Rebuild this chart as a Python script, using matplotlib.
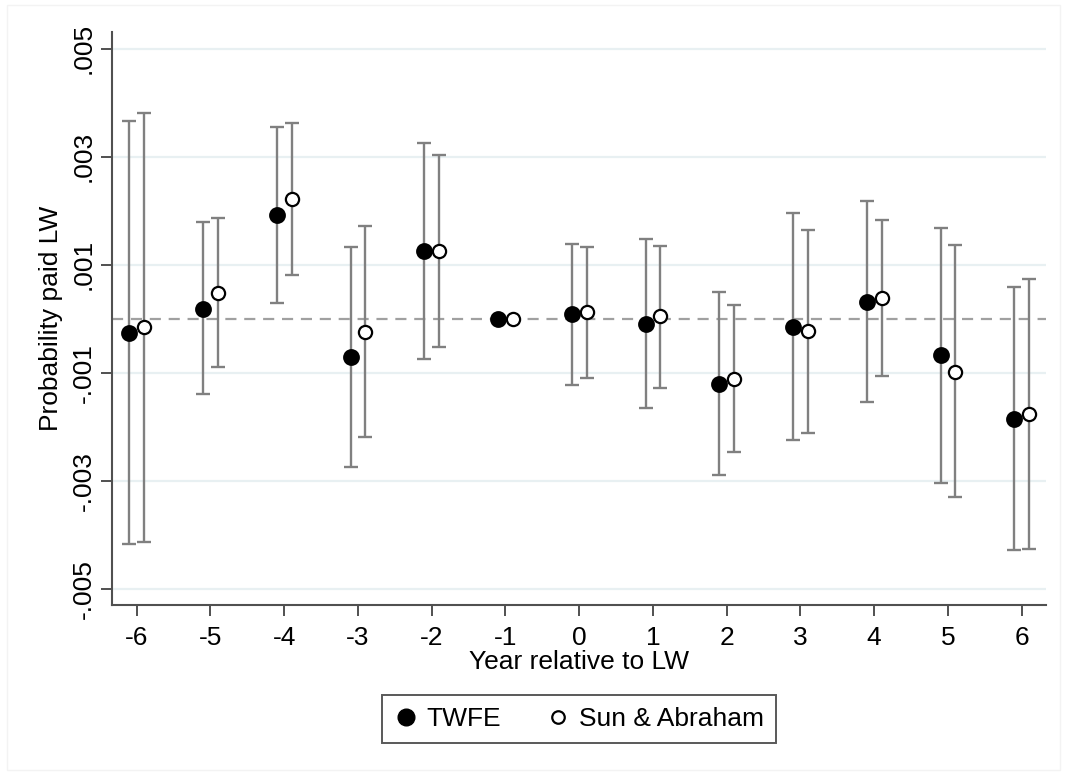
import matplotlib

matplotlib.use("Agg")
import matplotlib.pyplot as plt
from matplotlib.lines import Line2D
from matplotlib.patches import Rectangle

plt.rcParams["font.family"] = ["Liberation Sans", "DejaVu Sans"]

# event time relative to LW
periods = [-6, -5, -4, -3, -2, -1, 0, 1, 2, 3, 4, 5, 6]

twfe_coef = [-0.00026, 0.00018, 0.00192, -0.00071, 0.00126, 0.0, 0.00008,
             -0.00010, -0.00121, -0.00015, 0.00031, -0.00068, -0.00186]
twfe_lo = [-0.00418, -0.00140, 0.00029, -0.00275, -0.00074, 0.0, -0.00123,
           -0.00165, -0.00289, -0.00224, -0.00154, -0.00304, -0.00429]
twfe_hi = [0.00366, 0.00178, 0.00355, 0.00133, 0.00326, 0.0, 0.00139,
           0.00147, 0.00050, 0.00195, 0.00217, 0.00168, 0.00058]

sa_coef = [-0.00016, 0.00048, 0.00221, -0.00024, 0.00126, 0.0, 0.00012,
           0.00004, -0.00111, -0.00023, 0.00039, -0.00098, -0.00177]
sa_lo = [-0.00414, -0.00089, 0.00080, -0.00219, -0.00052, 0.0, -0.00109,
         -0.00129, -0.00246, -0.00211, -0.00106, -0.00331, -0.00427]
sa_hi = [0.00381, 0.00187, 0.00363, 0.00172, 0.00303, 0.0, 0.00133,
         0.00135, 0.00026, 0.00165, 0.00183, 0.00136, 0.00074]

yticks = [-0.005, -0.003, -0.001, 0.001, 0.003, 0.005]
ytick_labels = ["-.005", "-.003", "-.001", ".001", ".003", ".005"]

bar_color = "#808080"
axis_color = "#505050"
grid_color = "#e8f0f2"
shift = 0.1
fs = 19

fig = plt.figure(figsize=(10.67, 7.75), dpi=100, facecolor="white")
ax = fig.add_axes([0.1053, 0.2194, 0.8750, 0.7389])

for y in yticks:
    ax.axhline(y, color=grid_color, lw=1.6, zorder=0)
ax.axhline(0, color="#a0a0a0", lw=1.6, ls=(0, (5, 3.5)), zorder=1)


def draw_series(offset, coef, lo, hi, face):
    xs = [p + offset for p in periods]
    err = [[c - l for c, l in zip(coef, lo)], [h - c for c, h in zip(coef, hi)]]
    ax.errorbar(xs, coef, yerr=err, fmt="none", ecolor=bar_color,
                elinewidth=1.7, capsize=4.8, capthick=1.7, zorder=2)
    ax.plot(xs, coef, ls="none", marker="o", ms=10.5 if face == "black" else 9.5,
            mfc=face, mec="black", mew=1.6, zorder=3)


draw_series(-shift, twfe_coef, twfe_lo, twfe_hi, "black")
draw_series(shift, sa_coef, sa_lo, sa_hi, "white")

ax.set_xlim(-6.33, 6.33)
ax.set_ylim(-0.0053, 0.0053)
ax.set_xticks(periods)
ax.set_xticklabels([str(p) for p in periods])
ax.set_yticks(yticks)
ax.set_yticklabels(ytick_labels, rotation=90, va="center")

for side in ["top", "right"]:
    ax.spines[side].set_visible(False)
for side in ["left", "bottom"]:
    ax.spines[side].set_color(axis_color)
    ax.spines[side].set_linewidth(1.5)

ax.tick_params(axis="both", direction="out", length=8, width=1.4,
               color=axis_color, labelsize=fs, labelcolor="black")
ax.tick_params(axis="x", pad=7)
ax.tick_params(axis="y", pad=4)

ax.set_xlabel("Year relative to LW", fontsize=fs)
ax.xaxis.set_label_coords(0.5, -0.078)
ax.set_ylabel("Probability paid LW", fontsize=fs)
ax.yaxis.set_label_coords(-0.053, 0.5)

handles = [
    Line2D([], [], ls="none", marker="o", ms=12, mfc="black", mec="black"),
    Line2D([], [], ls="none", marker="o", ms=9, mfc="white", mec="black", mew=1.6),
]
leg = fig.legend(handles, ["TWFE", "Sun & Abraham"], loc="center",
                 bbox_to_anchor=(0.5426, 0.0725), ncol=2, fontsize=fs,
                 frameon=True, fancybox=False, handlelength=0.9,
                 handletextpad=0.35, columnspacing=1.7, borderpad=0.45,
                 borderaxespad=0)
leg.get_frame().set_edgecolor("#303030")
leg.get_frame().set_linewidth(1.4)

fig.patches.append(Rectangle((0.0066, 0.006), 0.9868, 0.987, transform=fig.transFigure,
                             fill=False, ec="#f3f3f3", lw=1.0))

plt.savefig("out.png", dpi=100, facecolor=fig.get_facecolor())
plt.close(fig)
